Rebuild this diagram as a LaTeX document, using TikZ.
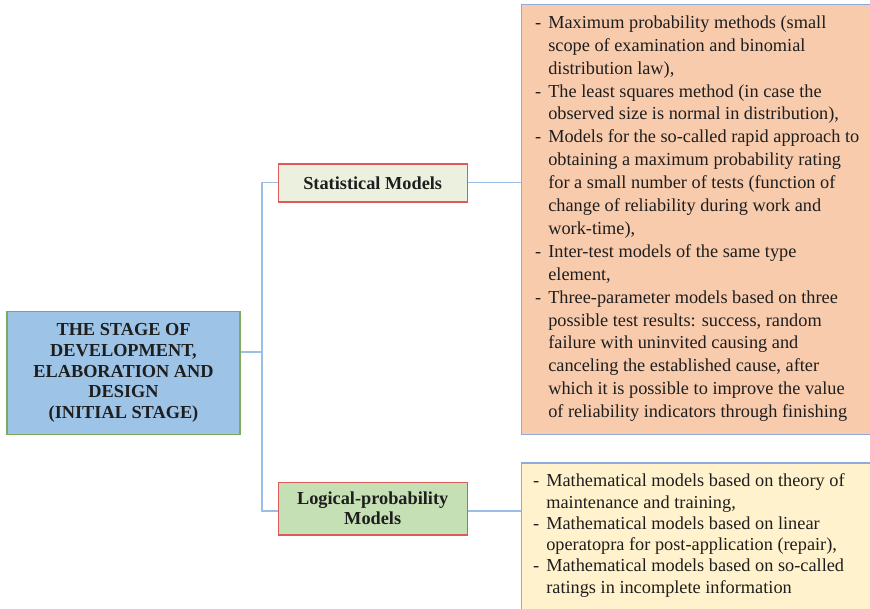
\documentclass[tikz,border=0pt]{standalone}
\usepackage{fontspec}
\setmainfont{Liberation Serif}
\usepackage{array}

\definecolor{stageblue}{RGB}{157,195,230}
\definecolor{stageedge}{RGB}{125,170,95}
\definecolor{statfill}{RGB}{235,241,222}
\definecolor{logicfill}{RGB}{197,224,180}
\definecolor{modeledge}{RGB}{220,90,90}
\definecolor{listorange}{RGB}{248,203,173}
\definecolor{listyellow}{RGB}{255,242,204}
\definecolor{listedge}{RGB}{143,170,220}
\definecolor{linkblue}{RGB}{155,190,230}
\definecolor{inkgray}{RGB}{30,30,30}

\tikzset{
  stagebox/.style={draw=stageedge, fill=stageblue, line width=1.4pt, inner sep=0pt,
    minimum width=233pt, minimum height=123pt, align=center, text=inkgray,
    font=\fontsize{18.3}{20.7}\selectfont\bfseries},
  modelbox/.style={draw=modeledge, line width=1.2pt, inner sep=0pt,
    minimum width=189pt, align=center, text=inkgray,
    font=\fontsize{18.3}{20}\selectfont\bfseries},
  listbox/.style={draw=listedge, line width=1.2pt, inner sep=0pt, anchor=north west},
  listtext/.style={inner sep=0pt, anchor=base west, text=inkgray},
  link/.style={draw=linkblue, line width=1.3pt}
}

\begin{document}
\begin{tikzpicture}[x=1pt,y=-1pt]
\useasboundingbox (0,0) rectangle (870,608);

% central stage box
\node[stagebox] (stage) at (123.5,373)
  {THE STAGE OF\\DEVELOPMENT,\\ELABORATION AND\\DESIGN\\(INITIAL STAGE)};

% the two model groups
\node[modelbox, fill=statfill, minimum height=38pt] (stat) at (372.7,183) {Statistical Models};
\node[modelbox, fill=logicfill, minimum height=52.5pt] (logic) at (372.7,508.7)
  {Logical-probability\\Models};

% list panels (running past the right/bottom edges)
\node[listbox, fill=listorange, minimum width=360pt, minimum height=430pt] (statlist) at (521,4) {};
\node[listbox, fill=listyellow, minimum width=360pt, minimum height=160pt] (logiclist) at (521,462.3) {};

\node[listtext] (stattext) at (535,28.3) {\fontsize{18.3}{22.9}\selectfont
\begin{tabular}[t]{@{}l@{\hspace{7pt}}l@{}}
- & Maximum probability methods (small\\
  & scope of examination and binomial\\
  & distribution law),\\
- & The least squares method (in case the\\
  & observed size is normal in distribution),\\
- & Models for the so-called rapid approach to\\
  & obtaining a maximum probability rating\\
  & for a small number of tests (function of\\
  & change of reliability during work and\\
  & work-time),\\
- & Inter-test models of the same type\\
  & element,\\
- & Three-parameter models based on three\\
  & possible test results: success, random\\
  & failure with uninvited causing and\\
  & canceling the established cause, after\\
  & which it is possible to improve the value\\
  & of reliability indicators through finishing
\end{tabular}};

\node[listtext] (logictext) at (533,486.7) {\fontsize{18.3}{21.3}\selectfont
\begin{tabular}[t]{@{}l@{\hspace{7pt}}l@{}}
- & Mathematical models based on theory of\\
  & maintenance and training,\\
- & Mathematical models based on linear\\
  & operatopra for post-application (repair),\\
- & Mathematical models based on so-called\\
  & ratings in incomplete information
\end{tabular}};

% connectors
\coordinate (jmid) at (262,352);
\coordinate (jtop) at (262,182.5);
\coordinate (jbot) at (262,511);
\path[link] (stage.east |- jmid) -- (jmid);
\path[link] (stat.west |- jtop) -- (jtop) -- (jbot) -- (logic.west |- jbot);
\path[link] (stat.east |- jtop) -- (statlist.west |- jtop);
\path[link] (logic.east |- jbot) -- (logiclist.west |- jbot);
\end{tikzpicture}
\end{document}
